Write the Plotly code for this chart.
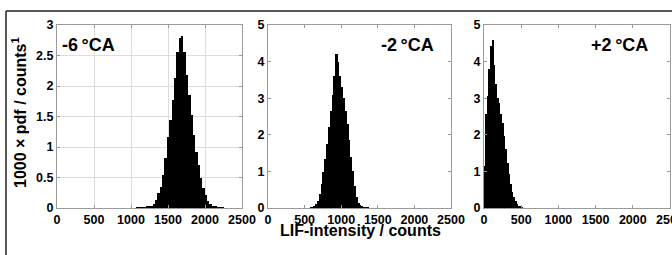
import plotly.graph_objects as go

# ---------------- data (pdf x 1000, histogram bins) ----------------
p1_bin_start = 1068
p1_bin_width = 32
p1_values = [0.01, 0.01, 0.01, 0.015, 0.02, 0.03, 0.04, 0.07, 0.13, 0.24,
             0.35, 0.54, 0.82, 1.17, 1.44, 1.77, 2.13, 2.56, 2.78, 2.82,
             2.56, 2.18, 1.85, 1.52, 1.20, 0.92, 0.70, 0.49, 0.33, 0.21,
             0.12, 0.07, 0.04, 0.02, 0.015, 0.01, 0.01]

p2_bin_start = 575
p2_bin_width = 25
p2_values = [0.01, 0.02, 0.05, 0.10, 0.20, 0.38, 0.65, 0.98, 1.35, 1.75,
             2.20, 2.65, 3.10, 3.60, 4.20, 3.98, 3.62, 3.30, 3.00, 2.65,
             2.30, 1.85, 1.40, 1.02, 0.60, 0.30, 0.14, 0.07, 0.04, 0.02,
             0.01, 0.01]

p3_bin_start = 0
p3_bin_width = 22
p3_values = [1.15, 2.56, 3.06, 3.79, 4.43, 4.58, 3.92, 3.38, 3.01, 2.87,
             2.57, 2.33, 1.97, 1.61, 1.24, 0.93, 0.66, 0.45, 0.30, 0.18,
             0.10, 0.05, 0.03, 0.01]

panel_labels = ["-6\u2009°CA", "-2\u2009°CA", "+2\u2009°CA"]
x_ticks = [0, 500, 1000, 1500, 2000, 2500]
y1_ticks = [0, 0.5, 1, 1.5, 2, 2.5, 3]
y23_ticks = [0, 1, 2, 3, 4, 5]
y_title = "1000 × pdf / counts<sup>1</sup>"
x_title = "LIF-intensity / counts"

# ---------------- figure ----------------
W, H = 672, 255
FONT = "Liberation Sans, Arial, Helvetica, sans-serif"

def px_x(p):
    return p / W

def px_y(p):
    return (H - p) / H

fig = go.Figure()

panels = [
    (p1_bin_start, p1_bin_width, p1_values),
    (p2_bin_start, p2_bin_width, p2_values),
    (p3_bin_start, p3_bin_width, p3_values),
]
for i, (start, width, vals) in enumerate(panels):
    centers = [start + width * (k + 0.5) for k in range(len(vals))]
    sfx = "" if i == 0 else str(i + 1)
    fig.add_trace(go.Bar(
        x=centers, y=vals, width=width,
        marker=dict(color="black", line=dict(width=0)),
        xaxis="x" + sfx, yaxis="y" + sfx, showlegend=False,
        hoverinfo="skip",
    ))

x_domains = [(57, 242), (268, 451), (484, 670)]
y_dom = [px_y(208), px_y(25)]

axis_common = dict(
    showline=True, linecolor="#9a9a9a", linewidth=1, mirror="ticks",
    ticks="inside", ticklen=3, tickcolor="#9a9a9a",
    tickfont=dict(family=FONT, size=12.5, color="black", weight="bold"),
    zeroline=False, automargin=False, ticklabeloverflow="allow",
)

layout = dict(
    width=W, height=H,
    margin=dict(l=0, r=0, t=0, b=0, pad=0),
    paper_bgcolor="white", plot_bgcolor="white",
    bargap=0, showlegend=False,
)
for i, (a, b) in enumerate(x_domains):
    sfx = "" if i == 0 else str(i + 1)
    grid = i == 0
    layout["xaxis" + sfx] = dict(
        axis_common, domain=[px_x(a), px_x(b)], range=[0, 2500],
        tickvals=x_ticks, ticktext=[str(t) for t in x_ticks],
        showgrid=grid, gridcolor="#dcdcdc", gridwidth=1,
        anchor="y" + sfx,
    )
    if i == 0:
        yt = y1_ticks
        yr = [0, 3]
    else:
        yt = y23_ticks
        yr = [0, 5]
    layout["yaxis" + sfx] = dict(
        axis_common, domain=y_dom, range=yr,
        tickvals=yt, ticktext=[("%g" % t) for t in yt],
        showgrid=grid, gridcolor="#dcdcdc", gridwidth=1,
        anchor="x" + sfx,
    )

fig.update_layout(**layout)

# panel labels
label_pos = [(60, "left"), (436, "right"), (650, "right")]
for (xp, anc), txt in zip(label_pos, panel_labels):
    fig.add_annotation(
        x=px_x(xp), y=px_y(45), xref="paper", yref="paper",
        text=txt, showarrow=False, xanchor=anc, yanchor="middle",
        font=dict(family=FONT, size=18, color="black", weight="bold"),
    )

# axis titles
fig.add_annotation(
    x=px_x(19), y=px_y(113), xref="paper", yref="paper",
    text=y_title, showarrow=False, textangle=-90,
    xanchor="center", yanchor="middle",
    font=dict(family=FONT, size=16, color="black", weight="bold"),
)
fig.add_annotation(
    x=px_x(360), y=px_y(230), xref="paper", yref="paper",
    text=x_title, showarrow=False, xanchor="center", yanchor="middle",
    font=dict(family=FONT, size=16, color="black", weight="bold"),
)

# outer frame (top and left edges of the surrounding box)
fig.add_shape(
    type="line", xref="paper", yref="paper",
    x0=px_x(6), y0=px_y(11), x1=1.0, y1=px_y(11),
    line=dict(color="#222222", width=1.5), layer="above",
)
fig.add_shape(
    type="line", xref="paper", yref="paper",
    x0=px_x(6), y0=px_y(11), x1=px_x(6), y1=0.0,
    line=dict(color="#222222", width=1.5), layer="above",
)

fig.write_html(
    "out.html",
    config={"displayModeBar": False},
    post_script="document.body.style.margin='0';document.body.style.overflow='hidden';",
)
